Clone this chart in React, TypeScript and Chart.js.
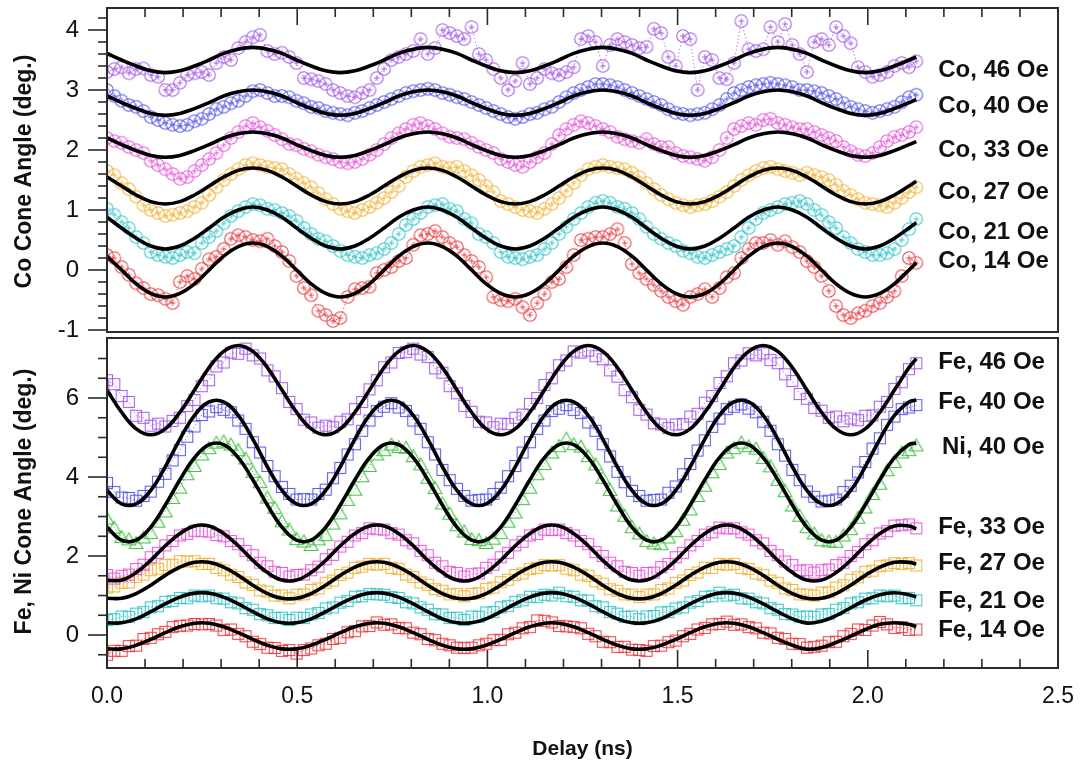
import React, { useEffect, useRef } from 'react';
import { Chart, registerables } from 'chart.js';

Chart.register(...registerables);

// ---------- shared delay axis (ns) ----------
const delayNs = [
  0, 0.0192, 0.0383, 0.0575, 0.0767, 0.0958, 0.115, 0.1342, 0.1533, 0.1725, 0.1917, 0.2108, 0.23, 0.2492, 0.2683, 0.2875, 0.3067, 0.3258, 0.345, 0.3642, 0.3833, 0.4025, 0.4217, 0.4408,
  0.46, 0.4792, 0.4983, 0.5175, 0.5367, 0.5558, 0.575, 0.5942, 0.6133, 0.6325, 0.6517, 0.6708, 0.69, 0.7092, 0.7283, 0.7475, 0.7667, 0.7858, 0.805, 0.8242, 0.8433, 0.8625, 0.8817, 0.9008,
  0.92, 0.9392, 0.9583, 0.9775, 0.9967, 1.0158, 1.035, 1.0542, 1.0733, 1.0925, 1.1117, 1.1308, 1.15, 1.1692, 1.1883, 1.2075, 1.2267, 1.2458, 1.265, 1.2842, 1.3033, 1.3225, 1.3417, 1.3608,
  1.38, 1.3992, 1.4183, 1.4375, 1.4567, 1.4758, 1.495, 1.5142, 1.5333, 1.5525, 1.5717, 1.5908, 1.61, 1.6292, 1.6483, 1.6675, 1.6867, 1.7058, 1.725, 1.7442, 1.7633, 1.7825, 1.8017, 1.8208,
  1.84, 1.8592, 1.8783, 1.8975, 1.9167, 1.9358, 1.955, 1.9742, 1.9933, 2.0125, 2.0317, 2.0508, 2.07, 2.0892, 2.1083, 2.1275,
];

const xTickValues = [0, 0.5, 1, 1.5, 2, 2.5];
const xTickLabels = ['0.0', '0.5', '1.0', '1.5', '2.0', '2.5'];
const coTickValues = [-1, 0, 1, 2, 3, 4];
const feTickValues = [0, 2, 4, 6];

// ---------- Co (top panel) measured data ----------
const co46 = [
  3.3, 3.35, 3.38, 3.28, 3.35, 3.36, 3.25, 3.22, 3.0, 3.0, 3.12, 3.25, 3.28, 3.3, 3.25, 3.45, 3.55, 3.5, 3.7, 3.8, 3.88, 3.92, 3.65, 3.6,
  3.62, 3.55, 3.45, 3.2, 3.18, 3.15, 3.1, 3.0, 2.95, 2.9, 2.88, 2.95, 3.0, 3.2, 3.35, 3.5, 3.55, 3.6, 3.65, 3.85, 3.6, 3.7, 4.0, 3.95,
  3.9, 3.85, 4.05, 3.6, 3.5, 3.35, 3.2, 3.0, 3.15, 3.45, 3.1, 3.2, 3.35, 3.28, 3.25, 3.3, 3.38, 3.85, 3.9, 3.8, 3.4, 3.75, 3.85, 3.8,
  3.75, 3.7, 3.72, 4.02, 3.95, 3.55, 3.4, 3.9, 3.85, 3.0, 3.55, 3.5, 3.2, 3.18, 3.45, 4.15, 3.68, 3.65, 3.68, 4.05, 3.8, 4.1, 3.75, 3.6,
  3.3, 3.8, 3.85, 3.75, 4.05, 3.9, 3.78, 3.38, 3.3, 3.22, 3.25, 3.3, 3.4, 3.45, 3.38, 3.48,
];
const co40 = [
  3.0, 2.9, 2.82, 2.75, 2.72, 2.65, 2.55, 2.5, 2.45, 2.42, 2.4, 2.42, 2.48, 2.52, 2.6, 2.68, 2.72, 2.78, 2.82, 2.9, 2.98, 3.0, 2.95, 2.9,
  2.9, 2.88, 2.82, 2.78, 2.72, 2.7, 2.65, 2.62, 2.6, 2.58, 2.62, 2.65, 2.7, 2.75, 2.8, 2.85, 2.9, 2.95, 2.98, 3.0, 3.02, 3.0, 2.95, 2.92,
  2.88, 2.85, 2.8, 2.75, 2.7, 2.65, 2.6, 2.55, 2.52, 2.55, 2.6, 2.62, 2.68, 2.72, 2.8, 2.88, 2.95, 3.0, 3.05, 3.1, 3.1, 3.08, 3.05, 3.0,
  2.95, 2.9, 2.85, 2.8, 2.75, 2.68, 2.62, 2.6, 2.58, 2.6, 2.62, 2.68, 2.75, 2.85, 2.95, 3.0, 3.05, 3.08, 3.1, 3.12, 3.1, 3.08, 3.05, 3.0,
  3.0, 2.98, 2.95, 2.9, 2.85, 2.78, 2.72, 2.68, 2.65, 2.62, 2.65, 2.68, 2.72, 2.8, 2.88, 2.92,
];
const co33 = [
  2.2, 2.15, 2.12, 2.05, 2.0, 1.95, 1.82, 1.75, 1.68, 1.6, 1.52, 1.55, 1.65, 1.75, 1.85, 1.95, 2.08, 2.2, 2.3, 2.4, 2.45, 2.38, 2.32, 2.25,
  2.18, 2.1, 2.08, 2.02, 1.98, 1.92, 1.88, 1.85, 1.8, 1.78, 1.8, 1.85, 1.92, 2.0, 2.1, 2.2, 2.28, 2.35, 2.42, 2.45, 2.4, 2.35, 2.28, 2.22,
  2.2, 2.18, 2.12, 2.05, 2.0, 1.95, 1.85, 1.8, 1.75, 1.72, 1.8, 1.88, 1.95, 2.1, 2.25, 2.35, 2.42, 2.48, 2.45, 2.4, 2.35, 2.3, 2.22, 2.18,
  2.15, 2.12, 2.18, 2.1, 2.05, 2.05, 1.95, 1.9, 1.88, 1.85, 1.82, 1.88, 2.0, 2.2, 2.35, 2.4, 2.45, 2.42, 2.5, 2.52, 2.45, 2.42, 2.38, 2.35,
  2.35, 2.3, 2.25, 2.2, 2.15, 2.05, 1.98, 1.92, 1.9, 1.95, 2.05, 2.15, 2.22, 2.25, 2.3, 2.38,
];
const co27 = [
  1.65, 1.58, 1.45, 1.35, 1.22, 1.08, 1.0, 0.95, 0.9, 0.92, 0.95, 0.98, 1.05, 1.12, 1.25, 1.38, 1.5, 1.6, 1.68, 1.75, 1.78, 1.75, 1.72, 1.7,
  1.68, 1.6, 1.52, 1.45, 1.38, 1.28, 1.18, 1.1, 1.02, 0.98, 0.95, 1.0, 1.05, 1.12, 1.2, 1.3, 1.4, 1.55, 1.65, 1.72, 1.75, 1.78, 1.72, 1.7,
  1.72, 1.65, 1.58, 1.5, 1.4, 1.3, 1.15, 1.1, 1.05, 1.0, 0.98, 0.95, 1.02, 1.1, 1.2, 1.32, 1.45, 1.58, 1.68, 1.72, 1.75, 1.72, 1.7, 1.68,
  1.62, 1.55, 1.45, 1.35, 1.25, 1.18, 1.12, 1.08, 1.05, 1.08, 1.1, 1.15, 1.22, 1.3, 1.4, 1.5, 1.58, 1.65, 1.7, 1.72, 1.68, 1.65, 1.62, 1.58,
  1.62, 1.58, 1.55, 1.5, 1.42, 1.32, 1.25, 1.18, 1.12, 1.1, 1.08, 1.05, 1.12, 1.2, 1.3, 1.38,
];
const co21 = [
  1.02, 0.92, 0.8, 0.7, 0.55, 0.45, 0.3, 0.25, 0.22, 0.2, 0.25, 0.3, 0.28, 0.45, 0.55, 0.65, 0.78, 0.9, 0.98, 1.05, 1.1, 1.08, 1.02, 1.0,
  0.95, 0.9, 0.82, 0.7, 0.6, 0.52, 0.48, 0.4, 0.32, 0.25, 0.22, 0.2, 0.25, 0.28, 0.35, 0.45, 0.6, 0.75, 0.85, 0.95, 1.05, 1.08, 1.1, 1.02,
  0.98, 0.85, 0.78, 0.6, 0.55, 0.45, 0.3, 0.22, 0.2, 0.18, 0.22, 0.25, 0.35, 0.45, 0.6, 0.72, 0.85, 0.95, 1.05, 1.12, 1.15, 1.12, 1.05, 1.02,
  0.95, 0.85, 0.72, 0.6, 0.52, 0.45, 0.4, 0.32, 0.28, 0.22, 0.2, 0.25, 0.3, 0.35, 0.4, 0.55, 0.7, 0.85, 0.95, 1.0, 1.05, 1.1, 1.12, 1.15,
  1.1, 1.0, 0.92, 0.8, 0.7, 0.55, 0.45, 0.35, 0.3, 0.25, 0.25, 0.28, 0.35, 0.5, 0.68, 0.85,
];
const co14 = [
  0.25, 0.2, 0.05, -0.08, -0.22, -0.3, -0.4, -0.42, -0.48, -0.55, -0.2, -0.1, -0.15, 0.02, 0.18, 0.22, 0.35, 0.52, 0.58, 0.55, 0.5, 0.48, 0.52, 0.4,
  0.3, 0.15, -0.1, -0.3, -0.42, -0.68, -0.75, -0.85, -0.8, -0.45, -0.32, -0.3, -0.28, -0.05, 0, 0.05, 0.15, 0.2, 0.42, 0.58, 0.6, 0.65, 0.55, 0.45,
  0.38, 0.25, 0.15, 0.05, -0.12, -0.45, -0.5, -0.52, -0.48, -0.62, -0.75, -0.55, -0.4, -0.2, -0.15, 0.05, 0.25, 0.5, 0.52, 0.55, 0.55, 0.6, 0.68, 0.45,
  0.1, -0.05, -0.15, -0.25, -0.35, -0.45, -0.52, -0.58, -0.45, -0.4, -0.32, -0.45, -0.3, -0.12, -0.05, 0.2, 0.35, 0.45, 0.45, 0.5, 0.42, 0.48, 0.38, 0.3,
  0.15, 0.05, -0.1, -0.35, -0.6, -0.75, -0.8, -0.72, -0.68, -0.6, -0.55, -0.45, -0.35, -0.1, 0.2, 0.12,
];

// ---------- Co fits (sampled on every second delay, plus the last one) ----------
const co46Fit = [
  3.61, 3.5, 3.4, 3.32, 3.29, 3.32, 3.4, 3.5, 3.61, 3.68, 3.71, 3.68,
  3.61, 3.5, 3.4, 3.32, 3.29, 3.32, 3.4, 3.5, 3.61, 3.68, 3.71, 3.68,
  3.61, 3.5, 3.4, 3.32, 3.29, 3.32, 3.4, 3.5, 3.61, 3.68, 3.71, 3.68,
  3.61, 3.5, 3.4, 3.32, 3.29, 3.32, 3.4, 3.5, 3.61, 3.68, 3.71, 3.68,
  3.61, 3.5, 3.4, 3.32, 3.29, 3.32, 3.4, 3.5, 3.55,
];
const co40Fit = [
  2.9, 2.79, 2.69, 2.61, 2.58, 2.61, 2.69, 2.79, 2.9, 2.97, 3.0, 2.97,
  2.9, 2.79, 2.69, 2.61, 2.58, 2.61, 2.69, 2.79, 2.9, 2.97, 3.0, 2.97,
  2.9, 2.79, 2.69, 2.61, 2.58, 2.61, 2.69, 2.79, 2.9, 2.97, 3.0, 2.97,
  2.9, 2.79, 2.69, 2.61, 2.58, 2.61, 2.69, 2.79, 2.9, 2.97, 3.0, 2.97,
  2.9, 2.79, 2.69, 2.61, 2.58, 2.61, 2.69, 2.79, 2.84,
];
const co33Fit = [
  2.2, 2.09, 1.99, 1.91, 1.88, 1.91, 1.99, 2.09, 2.2, 2.27, 2.3, 2.27,
  2.2, 2.09, 1.99, 1.91, 1.88, 1.91, 1.99, 2.09, 2.2, 2.27, 2.3, 2.27,
  2.2, 2.09, 1.99, 1.91, 1.88, 1.91, 1.99, 2.09, 2.2, 2.27, 2.3, 2.27,
  2.2, 2.09, 1.99, 1.91, 1.88, 1.91, 1.99, 2.09, 2.2, 2.27, 2.3, 2.27,
  2.2, 2.09, 1.99, 1.91, 1.88, 1.91, 1.99, 2.09, 2.14,
];
const co27Fit = [
  1.55, 1.4, 1.25, 1.14, 1.1, 1.14, 1.25, 1.4, 1.55, 1.66, 1.7, 1.66,
  1.55, 1.4, 1.25, 1.14, 1.1, 1.14, 1.25, 1.4, 1.55, 1.66, 1.7, 1.66,
  1.55, 1.4, 1.25, 1.14, 1.1, 1.14, 1.25, 1.4, 1.55, 1.66, 1.7, 1.66,
  1.55, 1.4, 1.25, 1.14, 1.1, 1.14, 1.25, 1.4, 1.55, 1.66, 1.7, 1.66,
  1.55, 1.4, 1.25, 1.14, 1.1, 1.14, 1.25, 1.4, 1.48,
];
const co21Fit = [
  0.88, 0.7, 0.53, 0.4, 0.35, 0.4, 0.53, 0.7, 0.88, 1.0, 1.05, 1.0,
  0.88, 0.7, 0.53, 0.4, 0.35, 0.4, 0.53, 0.7, 0.88, 1.0, 1.05, 1.0,
  0.88, 0.7, 0.53, 0.4, 0.35, 0.4, 0.53, 0.7, 0.88, 1.0, 1.05, 1.0,
  0.88, 0.7, 0.53, 0.4, 0.35, 0.4, 0.53, 0.7, 0.88, 1.0, 1.05, 1.0,
  0.88, 0.7, 0.53, 0.4, 0.35, 0.4, 0.53, 0.7, 0.79,
];
const co14Fit = [
  0.23, 0, -0.23, -0.39, -0.45, -0.39, -0.23, 0, 0.23, 0.39, 0.45, 0.39,
  0.23, 0, -0.23, -0.39, -0.45, -0.39, -0.23, 0, 0.23, 0.39, 0.45, 0.39,
  0.23, 0, -0.23, -0.39, -0.45, -0.39, -0.23, 0, 0.23, 0.39, 0.45, 0.39,
  0.23, 0, -0.23, -0.39, -0.45, -0.39, -0.23, 0, 0.23, 0.39, 0.45, 0.39,
  0.23, 0, -0.23, -0.39, -0.45, -0.39, -0.23, 0, 0.12,
];

// ---------- Fe / Ni (bottom panel) measured data ----------
const fe46 = [
  6.45, 6.35, 6.05, 5.9, 5.55, 5.5, 5.3, 5.35, 5.28, 5.42, 5.5, 5.8, 5.95, 6.3, 6.45, 6.8, 6.9, 7.15, 7.12, 7.25, 7.08, 7.0, 6.7, 6.55,
  6.25, 5.9, 5.72, 5.45, 5.38, 5.25, 5.3, 5.26, 5.4, 5.46, 5.72, 5.9, 6.22, 6.45, 6.78, 6.9, 7.14, 7.16, 7.25, 7.1, 7.04, 6.75, 6.64, 6.3,
  6.12, 5.8, 5.65, 5.4, 5.38, 5.26, 5.35, 5.34, 5.5, 5.58, 5.85, 6.0, 6.33, 6.5, 6.83, 6.95, 7.18, 7.15, 7.2, 7.06, 6.98, 6.7, 6.54, 6.2,
  6.02, 5.7, 5.58, 5.36, 5.33, 5.24, 5.33, 5.34, 5.53, 5.6, 5.88, 6.05, 6.38, 6.55, 6.88, 6.95, 7.13, 7.08, 7.13, 6.96, 6.88, 6.6, 6.43, 6.1,
  5.98, 5.75, 5.68, 5.5, 5.53, 5.41, 5.48, 5.44, 5.55, 5.56, 5.78, 5.9, 6.23, 6.4, 6.73, 6.88,
];
const fe40 = [
  3.85, 3.62, 3.48, 3.47, 3.4, 3.52, 3.63, 3.88, 4.08, 4.42, 4.68, 5.02, 5.28, 5.57, 5.66, 5.77, 5.7, 5.64, 5.43, 5.22, 4.88, 4.62, 4.28, 4.02,
  3.75, 3.57, 3.43, 3.44, 3.43, 3.57, 3.68, 3.97, 4.23, 4.57, 4.83, 5.17, 5.43, 5.67, 5.78, 5.87, 5.76, 5.67, 5.43, 5.22, 4.88, 4.57, 4.18, 3.92,
  3.7, 3.52, 3.4, 3.42, 3.43, 3.57, 3.73, 4.02, 4.28, 4.62, 4.88, 5.22, 5.43, 5.67, 5.73, 5.82, 5.7, 5.62, 5.38, 5.17, 4.83, 4.52, 4.13, 3.87,
  3.65, 3.52, 3.4, 3.42, 3.43, 3.6, 3.76, 4.07, 4.33, 4.67, 4.93, 5.27, 5.48, 5.72, 5.78, 5.84, 5.73, 5.64, 5.4, 5.17, 4.83, 4.54, 4.18, 3.92,
  3.63, 3.5, 3.38, 3.4, 3.43, 3.62, 3.78, 4.12, 4.38, 4.72, 4.98, 5.32, 5.53, 5.72, 5.76, 5.82,
];
const ni40 = [
  2.95, 2.72, 2.48, 2.42, 2.33, 2.47, 2.58, 2.87, 3.13, 3.47, 3.73, 4.07, 4.28, 4.57, 4.73, 4.87, 4.9, 4.82, 4.68, 4.47, 4.13, 3.87, 3.48, 3.22,
  2.88, 2.67, 2.43, 2.37, 2.28, 2.42, 2.53, 2.82, 3.08, 3.42, 3.68, 4.02, 4.28, 4.57, 4.68, 4.82, 4.76, 4.74, 4.53, 4.32, 3.98, 3.72, 3.33, 3.07,
  2.78, 2.62, 2.43, 2.4, 2.33, 2.44, 2.58, 2.87, 3.1, 3.44, 3.73, 4.07, 4.33, 4.62, 4.78, 4.97, 4.83, 4.77, 4.53, 4.32, 3.98, 3.67, 3.28, 3.02,
  2.73, 2.57, 2.38, 2.32, 2.3, 2.47, 2.63, 2.92, 3.18, 3.52, 3.78, 4.12, 4.33, 4.62, 4.73, 4.87, 4.78, 4.72, 4.48, 4.27, 3.93, 3.64, 3.28, 3.02,
  2.73, 2.57, 2.4, 2.37, 2.36, 2.52, 2.68, 2.97, 3.23, 3.57, 3.83, 4.17, 4.38, 4.62, 4.68, 4.8,
];
const fe33 = [
  1.52, 1.43, 1.5, 1.53, 1.67, 1.78, 1.97, 2.08, 2.27, 2.38, 2.52, 2.56, 2.64, 2.63, 2.62, 2.53, 2.5, 2.38, 2.3, 2.13, 2.02, 1.83, 1.74, 1.6,
  1.57, 1.48, 1.52, 1.53, 1.64, 1.73, 1.92, 2.03, 2.24, 2.36, 2.52, 2.58, 2.7, 2.68, 2.67, 2.58, 2.54, 2.4, 2.32, 2.13, 2.02, 1.83, 1.74, 1.6,
  1.57, 1.48, 1.54, 1.56, 1.7, 1.78, 1.97, 2.08, 2.27, 2.36, 2.52, 2.56, 2.67, 2.66, 2.67, 2.58, 2.52, 2.38, 2.3, 2.1, 2.0, 1.83, 1.74, 1.6,
  1.57, 1.5, 1.57, 1.58, 1.72, 1.8, 1.97, 2.08, 2.27, 2.38, 2.54, 2.6, 2.72, 2.7, 2.7, 2.6, 2.54, 2.4, 2.32, 2.13, 2.02, 1.86, 1.77, 1.63,
  1.64, 1.58, 1.64, 1.66, 1.77, 1.83, 2.0, 2.1, 2.3, 2.4, 2.57, 2.63, 2.77, 2.78, 2.8, 2.7,
];
const fe27 = [
  1.2, 1.23, 1.32, 1.33, 1.47, 1.53, 1.64, 1.68, 1.77, 1.78, 1.87, 1.86, 1.87, 1.8, 1.8, 1.7, 1.64, 1.53, 1.47, 1.33, 1.27, 1.13, 1.1, 1.0,
  1.0, 0.93, 1.02, 1.03, 1.14, 1.18, 1.32, 1.38, 1.52, 1.58, 1.7, 1.73, 1.8, 1.78, 1.8, 1.7, 1.67, 1.53, 1.47, 1.33, 1.27, 1.16, 1.12, 1.03,
  1.04, 0.98, 1.04, 1.06, 1.17, 1.2, 1.34, 1.4, 1.52, 1.56, 1.67, 1.7, 1.77, 1.76, 1.77, 1.68, 1.64, 1.53, 1.5, 1.36, 1.3, 1.16, 1.12, 1.03,
  1.02, 0.96, 1.02, 1.03, 1.14, 1.18, 1.32, 1.38, 1.52, 1.58, 1.7, 1.7, 1.8, 1.78, 1.8, 1.7, 1.67, 1.56, 1.52, 1.38, 1.32, 1.18, 1.14, 1.03,
  1.02, 1.0, 1.07, 1.08, 1.2, 1.26, 1.4, 1.46, 1.6, 1.63, 1.74, 1.76, 1.82, 1.8, 1.82, 1.76,
];
const fe21 = [
  0.38, 0.4, 0.47, 0.46, 0.54, 0.58, 0.7, 0.73, 0.84, 0.86, 0.94, 0.93, 1.0, 0.98, 1.0, 0.93, 0.92, 0.83, 0.8, 0.68, 0.64, 0.53, 0.5, 0.43,
  0.44, 0.38, 0.44, 0.43, 0.52, 0.56, 0.67, 0.7, 0.82, 0.86, 0.97, 0.98, 1.04, 1.03, 1.02, 0.96, 0.94, 0.83, 0.8, 0.7, 0.64, 0.53, 0.52, 0.43,
  0.44, 0.38, 0.47, 0.46, 0.57, 0.58, 0.7, 0.73, 0.84, 0.88, 0.97, 0.96, 1.02, 1.0, 1.07, 0.98, 0.97, 0.88, 0.87, 0.73, 0.7, 0.58, 0.54, 0.46,
  0.47, 0.4, 0.47, 0.48, 0.57, 0.58, 0.67, 0.7, 0.82, 0.86, 0.97, 0.98, 1.07, 1.0, 1.02, 0.93, 0.92, 0.83, 0.8, 0.68, 0.64, 0.53, 0.52, 0.46,
  0.47, 0.46, 0.52, 0.53, 0.64, 0.68, 0.8, 0.83, 0.92, 0.93, 1.0, 0.98, 1.0, 0.93, 0.94, 0.88,
];
const fe14 = [
  -0.5, -0.4, -0.4, -0.28, -0.27, -0.1, -0.07, 0.02, 0.08, 0.2, 0.23, 0.24, 0.28, 0.27, 0.28, 0.24, 0.13, 0.14, 0.03, -0.03, -0.17, -0.23, -0.32, -0.33,
  -0.4, -0.38, -0.47, -0.38, -0.34, -0.26, -0.22, -0.1, -0.07, 0.07, 0.1, 0.22, 0.23, 0.32, 0.26, 0.27, 0.18, 0.17, 0.06, 0.02, -0.1, -0.13, -0.22, -0.26,
  -0.32, -0.33, -0.32, -0.26, -0.22, -0.13, -0.12, 0.02, 0.06, 0.17, 0.2, 0.37, 0.36, 0.32, 0.23, 0.22, 0.2, 0.17, 0.03, -0.03, -0.17, -0.18, -0.3, -0.3,
  -0.37, -0.38, -0.4, -0.28, -0.27, -0.18, -0.14, -0.03, 0.03, 0.14, 0.18, 0.27, 0.28, 0.34, 0.26, 0.27, 0.2, 0.17, 0.06, 0.04, -0.07, -0.1, -0.22, -0.23,
  -0.32, -0.3, -0.27, -0.18, -0.17, -0.03, 0.03, 0.14, 0.13, 0.24, 0.33, 0.27, 0.18, 0.2, 0.13, 0.14,
];

// ---------- Fe / Ni fits ----------
const fe46Fit = [
  6.2, 5.64, 5.22, 5.07, 5.22, 5.64, 6.2, 6.77, 7.18, 7.33, 7.18, 6.77,
  6.2, 5.64, 5.22, 5.07, 5.22, 5.64, 6.2, 6.77, 7.18, 7.33, 7.18, 6.77,
  6.2, 5.64, 5.22, 5.07, 5.22, 5.64, 6.2, 6.77, 7.18, 7.33, 7.18, 6.77,
  6.2, 5.64, 5.22, 5.07, 5.22, 5.64, 6.2, 6.77, 7.18, 7.33, 7.18, 6.77,
  6.2, 5.64, 5.22, 5.07, 5.22, 5.64, 6.2, 6.77, 7.0,
];
const fe40Fit = [
  3.66, 3.32, 3.32, 3.66, 4.26, 4.96, 5.56, 5.9, 5.9, 5.56, 4.96, 4.26,
  3.66, 3.32, 3.32, 3.66, 4.26, 4.96, 5.56, 5.9, 5.9, 5.56, 4.96, 4.26,
  3.66, 3.32, 3.32, 3.66, 4.26, 4.96, 5.56, 5.9, 5.9, 5.56, 4.96, 4.26,
  3.66, 3.32, 3.32, 3.66, 4.26, 4.96, 5.56, 5.9, 5.9, 5.56, 4.96, 4.26,
  3.66, 3.32, 3.32, 3.66, 4.26, 4.96, 5.56, 5.9, 5.95,
];
const ni40Fit = [
  2.73, 2.4, 2.4, 2.73, 3.29, 3.93, 4.49, 4.82, 4.82, 4.49, 3.93, 3.29,
  2.73, 2.4, 2.4, 2.73, 3.29, 3.93, 4.49, 4.82, 4.82, 4.49, 3.93, 3.29,
  2.73, 2.4, 2.4, 2.73, 3.29, 3.93, 4.49, 4.82, 4.82, 4.49, 3.93, 3.29,
  2.73, 2.4, 2.4, 2.73, 3.29, 3.93, 4.49, 4.82, 4.82, 4.49, 3.93, 3.29,
  2.73, 2.4, 2.4, 2.73, 3.29, 3.93, 4.49, 4.82, 4.86,
];
const fe33Fit = [
  1.39, 1.39, 1.58, 1.89, 2.26, 2.57, 2.76, 2.76, 2.57, 2.26, 1.89, 1.58,
  1.39, 1.39, 1.58, 1.89, 2.26, 2.57, 2.76, 2.76, 2.57, 2.26, 1.89, 1.58,
  1.39, 1.39, 1.58, 1.89, 2.26, 2.57, 2.76, 2.76, 2.57, 2.26, 1.89, 1.58,
  1.39, 1.39, 1.58, 1.89, 2.26, 2.57, 2.76, 2.76, 2.57, 2.26, 1.89, 1.58,
  1.39, 1.39, 1.58, 1.89, 2.26, 2.57, 2.76, 2.76, 2.69,
];
const fe27Fit = [
  0.93, 0.93, 1.05, 1.26, 1.51, 1.72, 1.84, 1.84, 1.72, 1.51, 1.26, 1.05,
  0.93, 0.93, 1.05, 1.26, 1.51, 1.72, 1.84, 1.84, 1.72, 1.51, 1.26, 1.05,
  0.93, 0.93, 1.05, 1.26, 1.51, 1.72, 1.84, 1.84, 1.72, 1.51, 1.26, 1.05,
  0.93, 0.93, 1.05, 1.26, 1.51, 1.72, 1.84, 1.84, 1.72, 1.51, 1.26, 1.05,
  0.93, 0.93, 1.05, 1.26, 1.51, 1.72, 1.84, 1.84, 1.8,
];
const fe21Fit = [
  0.31, 0.31, 0.41, 0.59, 0.79, 0.96, 1.06, 1.06, 0.96, 0.79, 0.59, 0.41,
  0.31, 0.31, 0.41, 0.59, 0.79, 0.96, 1.06, 1.06, 0.96, 0.79, 0.59, 0.41,
  0.31, 0.31, 0.41, 0.59, 0.79, 0.96, 1.06, 1.06, 0.96, 0.79, 0.59, 0.41,
  0.31, 0.31, 0.41, 0.59, 0.79, 0.96, 1.06, 1.06, 0.96, 0.79, 0.59, 0.41,
  0.3, 0.35, 0.49, 0.69, 0.88, 1.02, 1.07, 1.02, 0.96,
];
const fe14Fit = [
  -0.35, -0.35, -0.26, -0.11, 0.06, 0.21, 0.3, 0.3, 0.21, 0.06, -0.11, -0.26,
  -0.35, -0.35, -0.26, -0.11, 0.06, 0.21, 0.3, 0.3, 0.21, 0.06, -0.11, -0.26,
  -0.35, -0.35, -0.26, -0.11, 0.06, 0.21, 0.3, 0.3, 0.21, 0.06, -0.11, -0.26,
  -0.35, -0.35, -0.26, -0.11, 0.06, 0.21, 0.3, 0.3, 0.21, 0.06, -0.11, -0.26,
  -0.36, -0.32, -0.19, -0.03, 0.14, 0.27, 0.31, 0.27, 0.21,
];

// ---------- series labels (text drawn at the right of each trace) ----------
const coNames = ['Co, 46 Oe', 'Co, 40 Oe', 'Co, 33 Oe', 'Co, 27 Oe', 'Co, 21 Oe', 'Co, 14 Oe'];
const coLabelAt = [3.33, 2.72, 2.0, 1.3, 0.62, 0.14];
const feNames = ['Fe, 46 Oe', 'Fe, 40 Oe', 'Ni, 40 Oe', 'Fe, 33 Oe', 'Fe, 27 Oe', 'Fe, 21 Oe', 'Fe, 14 Oe'];
const feLabelAt = [6.9, 5.9, 4.75, 2.72, 1.82, 0.86, 0.13];
const labelDelay = [2.185, 2.185, 2.195, 2.185, 2.185, 2.185, 2.185];

const PURPLE = 'rgba(160, 85, 230, 0.9)';
const BLUE = 'rgba(80, 80, 230, 0.9)';
const MAGENTA = 'rgba(228, 80, 215, 0.9)';
const ORANGE = 'rgba(240, 176, 50, 0.9)';
const CYAN = 'rgba(45, 195, 200, 0.9)';
const RED = 'rgba(232, 55, 60, 0.9)';
const GREEN = 'rgba(50, 190, 50, 0.9)';

const FONT = "'Liberation Sans', Arial, Helvetica, sans-serif";
const NARROW = "'Liberation Sans Narrow', 'Liberation Sans', Arial, sans-serif";

function makeMarker(kind: string, color: string) {
  const c = document.createElement('canvas');
  const s = 16;
  c.width = s;
  c.height = s;
  const g = c.getContext('2d') as CanvasRenderingContext2D;
  g.strokeStyle = color;
  g.lineWidth = 1.1;
  if (kind === 'circle') {
    g.beginPath();
    g.arc(8, 8, 6.3, 0, Math.PI * 2);
    g.stroke();
    g.beginPath();
    g.moveTo(8, 5.2);
    g.lineTo(8, 10.8);
    g.moveTo(5.2, 8);
    g.lineTo(10.8, 8);
    g.stroke();
  } else if (kind === 'square') {
    g.strokeRect(2.5, 2.5, 11, 11);
  } else {
    g.beginPath();
    g.moveTo(8, 1.5);
    g.lineTo(14.8, 13.5);
    g.lineTo(1.2, 13.5);
    g.closePath();
    g.stroke();
  }
  return c;
}

const decorPlugin = {
  id: 'decor',
  afterDraw(chart: any) {
    const ctx = chart.ctx as CanvasRenderingContext2D;
    const xs = chart.scales.x;
    const yt = chart.scales.yTop;
    const yb = chart.scales.yBot;
    const L = chart.chartArea.left;
    const R = chart.chartArea.right;
    const topT = yt.top;
    const topB = yt.bottom - 3;
    const botT = yb.top + 3;
    const botB = yb.bottom;
    ctx.save();
    ctx.strokeStyle = '#2a2a2a';
    ctx.lineWidth = 2;
    ctx.strokeRect(L, topT, R - L, topB - topT);
    ctx.strokeRect(L, botT, R - L, botB - botT);
    ctx.lineWidth = 1.6;
    const tick = (px: number, py: number, dx: number, dy: number) => {
      ctx.beginPath();
      ctx.moveTo(px, py);
      ctx.lineTo(px + dx, py + dy);
      ctx.stroke();
    };
    for (let i = -5; i <= 22; i++) {
      const py = yt.getPixelForValue(i * 0.2);
      if (py < topT + 2 || py > topB + 1) continue;
      tick(L, py, i % 5 === 0 ? -19 : -9, 0);
    }
    for (let i = -1; i <= 15; i++) {
      const py = yb.getPixelForValue(i * 0.5);
      if (py < botT + 2 || py > botB) continue;
      tick(L, py, i % 4 === 0 ? -19 : -9, 0);
    }
    for (let i = 1; i <= 24; i++) {
      const px = xs.getPixelForValue(i * 0.1);
      const major = i % 5 === 0;
      tick(px, botB, 0, major ? -18 : -9);
      tick(px, topT, 0, major ? 17 : 9);
    }
    ctx.fillStyle = '#111';
    ctx.font = `bold 24px ${FONT}`;
    ctx.textAlign = 'left';
    ctx.textBaseline = 'middle';
    coNames.forEach((n, i) => {
      ctx.fillText(n, xs.getPixelForValue(labelDelay[0]), yt.getPixelForValue(coLabelAt[i]));
    });
    feNames.forEach((n, i) => {
      ctx.fillText(n, xs.getPixelForValue(labelDelay[i]), yb.getPixelForValue(feLabelAt[i]));
    });
    ctx.restore();
  },
};

export default function App() {
  const ref = useRef<HTMLCanvasElement | null>(null);

  useEffect(() => {
    const canvas = ref.current;
    if (!canvas) return;
    const fitDelay = delayNs.filter((_, i) => i % 2 === 0 || i === delayNs.length - 1);
    const pts = (ys: number[]) => delayNs.map((x, i) => ({ x, y: ys[i] }));
    const fitPts = (ys: number[]) => fitDelay.map((x, i) => ({ x, y: ys[i] }));

    const series = [
      { data: co46, fit: co46Fit, color: PURPLE, kind: 'circle', axis: 'yTop' },
      { data: co40, fit: co40Fit, color: BLUE, kind: 'circle', axis: 'yTop' },
      { data: co33, fit: co33Fit, color: MAGENTA, kind: 'circle', axis: 'yTop' },
      { data: co27, fit: co27Fit, color: ORANGE, kind: 'circle', axis: 'yTop' },
      { data: co21, fit: co21Fit, color: CYAN, kind: 'circle', axis: 'yTop' },
      { data: co14, fit: co14Fit, color: RED, kind: 'circle', axis: 'yTop' },
      { data: fe46, fit: fe46Fit, color: PURPLE, kind: 'square', axis: 'yBot' },
      { data: fe40, fit: fe40Fit, color: BLUE, kind: 'square', axis: 'yBot' },
      { data: ni40, fit: ni40Fit, color: GREEN, kind: 'triangle', axis: 'yBot' },
      { data: fe33, fit: fe33Fit, color: MAGENTA, kind: 'square', axis: 'yBot' },
      { data: fe27, fit: fe27Fit, color: ORANGE, kind: 'square', axis: 'yBot' },
      { data: fe21, fit: fe21Fit, color: CYAN, kind: 'square', axis: 'yBot' },
      { data: fe14, fit: fe14Fit, color: RED, kind: 'square', axis: 'yBot' },
    ];

    const datasets: any[] = [];
    series.forEach((s) => {
      datasets.push({
        data: fitPts(s.fit),
        yAxisID: s.axis,
        showLine: true,
        borderColor: '#000',
        borderWidth: 3.6,
        pointRadius: 0,
        tension: 0.4,
        order: 0,
      });
    });
    series.forEach((s) => {
      datasets.push({
        data: pts(s.data),
        yAxisID: s.axis,
        showLine: true,
        borderColor: s.color,
        borderWidth: 1,
        borderDash: [1.2, 2.4],
        pointStyle: makeMarker(s.kind, s.color),
        pointRadius: 7,
        order: 1,
      });
    });

    const chart = new Chart(canvas, {
      type: 'scatter',
      data: { datasets },
      plugins: [decorPlugin],
      options: {
        animation: false,
        responsive: false,
        events: [],
        layout: { padding: { left: 8, right: 27, top: 8, bottom: 0 } },
        plugins: { legend: { display: false }, tooltip: { enabled: false } },
        scales: {
          x: {
            type: 'linear',
            position: 'bottom',
            min: 0,
            max: 2.5,
            grid: { display: false, drawTicks: false },
            border: { display: false },
            afterBuildTicks: (s: any) => {
              s.ticks = xTickValues.map((v) => ({ value: v }));
            },
            afterFit: (s: any) => {
              s.height = 102;
              s.paddingLeft = 0;
              s.paddingRight = 0;
            },
            ticks: {
              padding: 15,
              autoSkip: false,
              maxRotation: 0,
              color: '#111',
              font: { family: NARROW, size: 23 },
              callback: (_v: any, i: number) => xTickLabels[i],
            },
            title: {
              display: true,
              text: 'Delay (ns)',
              color: '#111',
              padding: { top: 0, bottom: 8 },
              font: { family: NARROW, size: 21, weight: 'bold' },
            },
          },
          yBot: {
            type: 'linear',
            position: 'left',
            stack: 'panels',
            stackWeight: 333,
            weight: 0,
            min: -0.835,
            max: 7.595,
            grid: { display: false, drawTicks: false },
            border: { display: false },
            afterBuildTicks: (s: any) => {
              s.ticks = feTickValues.map((v) => ({ value: v }));
            },
            afterFit: (s: any) => {
              s.width = 99;
              s.paddingTop = 0;
              s.paddingBottom = 0;
            },
            ticks: {
              padding: 28,
              autoSkip: false,
              color: '#111',
              font: { family: FONT, size: 24 },
              callback: (v: any) => String(v),
            },
            title: {
              display: true,
              text: 'Fe, Ni Cone Angle (deg.)',
              color: '#111',
              padding: { top: 3, bottom: 0 },
              font: { family: FONT, size: 23, weight: 'bold' },
            },
          },
          yTop: {
            type: 'linear',
            position: 'left',
            stack: 'panels',
            stackWeight: 327,
            weight: 1,
            min: -1.0833,
            max: 4.3667,
            grid: { display: false, drawTicks: false },
            border: { display: false },
            afterBuildTicks: (s: any) => {
              s.ticks = coTickValues.map((v) => ({ value: v }));
            },
            afterFit: (s: any) => {
              s.width = 99;
              s.paddingTop = 0;
              s.paddingBottom = 0;
            },
            ticks: {
              padding: 28,
              autoSkip: false,
              color: '#111',
              font: { family: FONT, size: 24 },
              callback: (v: any) => String(v),
            },
            title: {
              display: true,
              text: 'Co Cone Angle (deg.)',
              color: '#111',
              padding: { top: 3, bottom: 0 },
              font: { family: FONT, size: 23, weight: 'bold' },
            },
          },
        },
      } as any,
    } as any);

    return () => chart.destroy();
  }, []);

  return (
    <div style={{ position: 'absolute', left: 0, top: 0, width: 1085, height: 770, background: '#fff' }}>
      <canvas ref={ref} width={1085} height={770} style={{ display: 'block', width: 1085, height: 770 }} />
    </div>
  );
}
